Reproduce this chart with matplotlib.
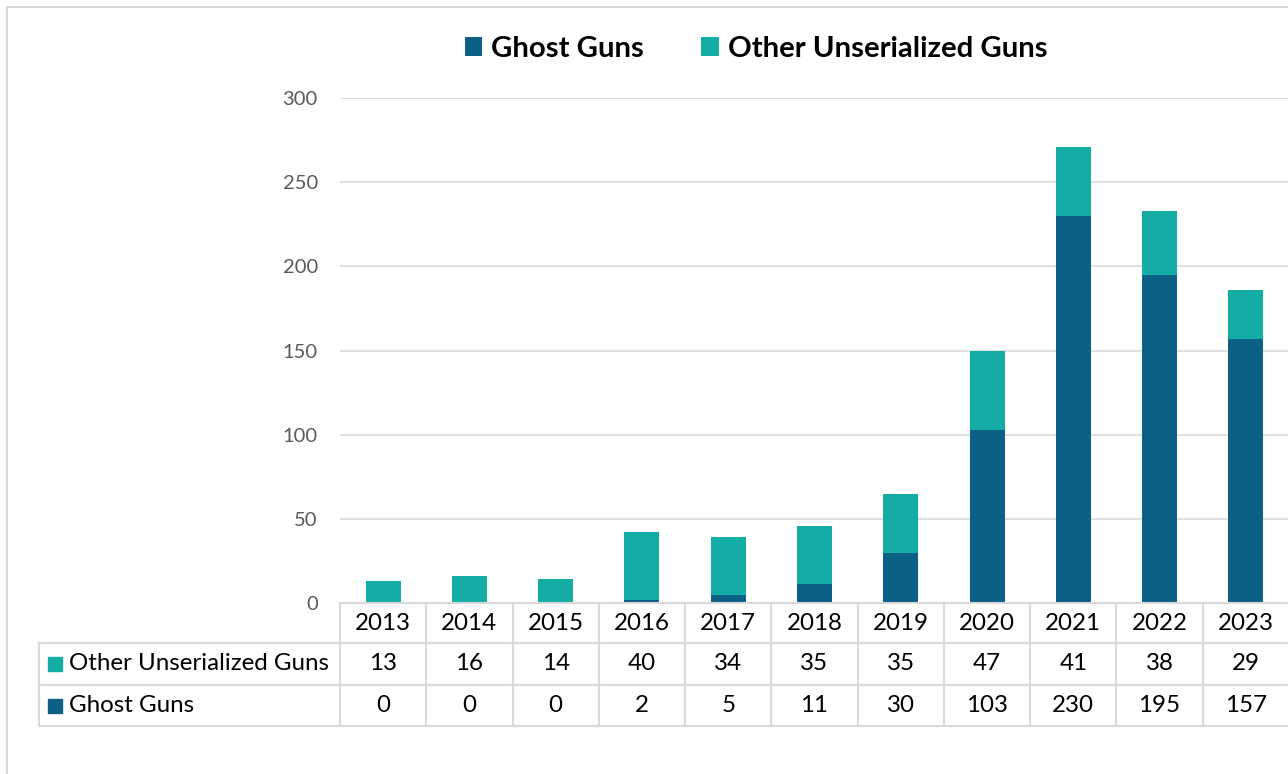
import matplotlib.pyplot as plt
from matplotlib.lines import Line2D
from matplotlib.patches import Rectangle
from matplotlib.transforms import blended_transform_factory

plt.rcParams['font.family'] = ['Lato', 'DejaVu Sans']

# Datos
years = ["2013", "2014", "2015", "2016", "2017", "2018", "2019", "2020", "2021", "2022", "2023"]
ghost_guns = [0, 0, 0, 2, 5, 11, 30, 103, 230, 195, 157]
other_guns = [13, 16, 14, 40, 34, 35, 35, 47, 41, 38, 29]
series_names = ["Ghost Guns", "Other Unserialized Guns"]
y_ticks = [0, 50, 100, 150, 200, 250, 300]

c_ghost = '#0c6086'
c_other = '#14ada6'
c_grid = '#d9d9d9'

W, H = 1288, 774
fig = plt.figure(figsize=(W / 100, H / 100), dpi=100)
ax = fig.add_axes([340 / W, 1 - 603 / H, (1289 - 340) / W, (603 - 98) / H])

x = list(range(len(years)))
b1 = ax.bar(x, ghost_guns, width=0.405, color=c_ghost, zorder=3)
b2 = ax.bar(x, other_guns, bottom=ghost_guns, width=0.405, color=c_other, zorder=3)

ax.set_xlim(-0.5, len(years) - 0.5)
ax.set_ylim(0, 300)
ax.set_yticks(y_ticks)
ax.set_xticks([])
ax.tick_params(axis='y', length=0, pad=16, labelsize=14.5, labelcolor='#595959')
for s in ax.spines.values():
    s.set_visible(False)
ax.yaxis.grid(True, color=c_grid, linewidth=1.2, zorder=0)

# Leyenda arriba
fig.legend([b1, b2], series_names, loc='center', ncol=2,
           bbox_to_anchor=(756 / W, 1 - 49 / H), frameon=False,
           prop={'weight': 'bold', 'size': 21.2},
           handlelength=0.6, handleheight=0.6, handletextpad=0.3,
           columnspacing=1.95)

# Tabla de datos debajo del eje
trans = blended_transform_factory(ax.transData, fig.transFigure)
rows_px = [603, 643, 685, 726]
rows = [1 - r / H for r in rows_px]
fs = 17.4

# lineas horizontales
fig.add_artist(Line2D([340 / W, 1.0], [rows[0], rows[0]], color=c_grid, lw=1.5))
for r in rows[1:]:
    fig.add_artist(Line2D([39 / W, 1.0], [r, r], color=c_grid, lw=1.5))
fig.add_artist(Line2D([39 / W, 39 / W], [rows[3], rows[1]], color=c_grid, lw=1.5))
# lineas verticales entre columnas
for i in range(len(years) + 1):
    ax.add_line(Line2D([i - 0.5, i - 0.5], [rows[3], rows[0]], color=c_grid,
                       lw=1.5, transform=trans, clip_on=False))

mid = [(rows[k] + rows[k + 1]) / 2 for k in range(3)]
for i, yr in enumerate(years):
    ax.text(i, mid[0], yr, transform=trans, ha='center', va='center', fontsize=fs)
    ax.text(i, mid[1], str(other_guns[i]), transform=trans, ha='center', va='center', fontsize=fs)
    ax.text(i, mid[2], str(ghost_guns[i]), transform=trans, ha='center', va='center', fontsize=fs)

# etiquetas de filas con cuadrito de color
for row_y, name, col in [(mid[1], series_names[1], c_other), (mid[2], series_names[0], c_ghost)]:
    fig.add_artist(Line2D([55 / W], [row_y], marker='s', markersize=10, color=col,
                          linestyle='none'))
    fig.text(69 / W, row_y, name, ha='left', va='center', fontsize=fs)

# borde exterior del grafico
fig.add_artist(Rectangle((7 / W, -0.05), 2, 1 - 7 / H + 0.05, fill=False,
                         edgecolor=c_grid, lw=1.5, transform=fig.transFigure))

fig.savefig('out.png', dpi=100)
